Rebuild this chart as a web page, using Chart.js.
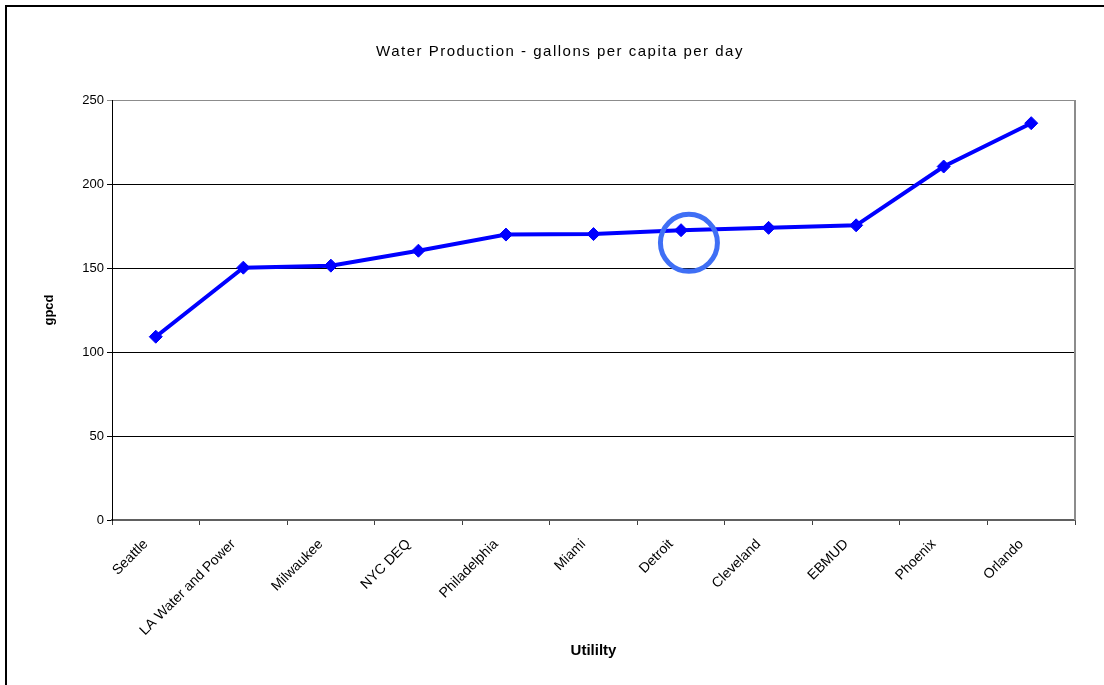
<!DOCTYPE html>
<html><head><meta charset="utf-8">
<script src="https://cdn.jsdelivr.net/npm/chart.js@4.4.0/dist/chart.umd.min.js"></script>
<style>html,body{margin:0;padding:0;background:#fff;}canvas{display:block;}</style>
</head><body>
<canvas id="c" width="1104" height="685"></canvas>
<script>
const utilities = ['Seattle','LA Water and Power','Milwaukee','NYC DEQ','Philadelphia','Miami','Detroit','Cleveland','EBMUD','Phoenix','Orlando'];
const gpcd = [109.1, 150.2, 151.4, 160.3, 169.9, 170.2, 172.5, 173.9, 175.4, 210.4, 236.2];
const yMin = 0, yMax = 250, yStep = 50;
const chartTitle = 'Water Production - gallons per capita per day';
const xTitle = 'Utililty';
const yTitle = 'gpcd';
const highlight = {category: 'Detroit', shift: 0.09, value: 165};

const FONT = '"Liberation Sans", Arial, sans-serif';

const decor = {
  id: 'decor',
  beforeDraw(chart) {
    const ctx = chart.ctx;
    ctx.save();
    ctx.fillStyle = '#fff';
    ctx.fillRect(0, 0, chart.width, chart.height);
    ctx.strokeStyle = '#000';
    ctx.lineWidth = 2;
    ctx.beginPath();
    ctx.moveTo(6, chart.height);
    ctx.lineTo(6, 6);
    ctx.lineTo(chart.width, 6);
    ctx.stroke();
    ctx.fillStyle = '#000';
    ctx.font = '15px ' + FONT;
    ctx.letterSpacing = '1.5px';
    ctx.textAlign = 'center';
    ctx.textBaseline = 'middle';
    ctx.fillText(chartTitle, 560, 52);
    ctx.restore();
  },
  beforeDatasetsDraw(chart) {
    const ctx = chart.ctx, a = chart.chartArea;
    ctx.save();
    ctx.strokeStyle = '#8c8c8c';
    ctx.lineWidth = 2;
    ctx.beginPath();
    ctx.moveTo(a.right, a.top);
    ctx.lineTo(a.right, a.bottom);
    ctx.stroke();
    ctx.restore();
  },
  afterDatasetsDraw(chart) {
    const ctx = chart.ctx;
    const xs = chart.scales.x, ys = chart.scales.y;
    const i = utilities.indexOf(highlight.category);
    const step = xs.getPixelForValue(1) - xs.getPixelForValue(0);
    const cx = xs.getPixelForValue(i) + highlight.shift * step;
    const cy = ys.getPixelForValue(highlight.value);
    ctx.save();
    ctx.strokeStyle = '#3f6ff5';
    ctx.lineWidth = 5;
    ctx.beginPath();
    ctx.arc(cx, cy, 28.5, 0, Math.PI * 2);
    ctx.stroke();
    ctx.restore();
  }
};

new Chart(document.getElementById('c'), {
  type: 'line',
  data: {
    labels: utilities,
    datasets: [{
      data: gpcd,
      borderColor: '#0000ff',
      backgroundColor: '#0000ff',
      borderWidth: 4,
      pointStyle: 'rectRot',
      pointRadius: 6.5,
      pointBorderWidth: 1,
      pointBorderColor: '#0000ff',
      pointBackgroundColor: '#0000ff',
      tension: 0,
      fill: false
    }]
  },
  options: {
    responsive: false,
    devicePixelRatio: 1,
    animation: false,
    layout: {padding: {left: 0, right: 29, top: 100, bottom: 0}},
    plugins: {legend: {display: false}, title: {display: false}, tooltip: {enabled: false}},
    scales: {
      x: {
        type: 'category',
        offset: true,
        grid: {display: true, drawOnChartArea: false, drawTicks: true, tickLength: 5, color: '#404040', offset: true},
        border: {display: true, color: '#606060', width: 2},
        ticks: {autoSkip: false, maxRotation: 45, minRotation: 45, padding: 11, labelOffset: -10, color: '#000', font: {family: FONT, size: 14}},
        title: {display: true, text: xTitle, color: '#000', font: {family: FONT, size: 15, weight: 'bold'}, padding: {top: 0, bottom: 25}},
        afterFit(s) { s.height = 165; }
      },
      y: {
        min: yMin, max: yMax,
        ticks: {stepSize: yStep, padding: 3, color: '#000', font: {family: FONT, size: 13}},
        grid: {color: (c) => c.tick && c.tick.value === yMax ? '#8c8c8c' : '#000', lineWidth: 1, tickLength: 5},
        border: {display: true, color: '#000', width: 1},
        title: {display: true, text: yTitle, color: '#000', font: {family: FONT, size: 13, weight: 'bold'}, padding: {top: 42, bottom: 0}},
        afterFit(s) { s.width = 112; }
      }
    }
  },
  plugins: [decor]
});
</script>
</body></html>
